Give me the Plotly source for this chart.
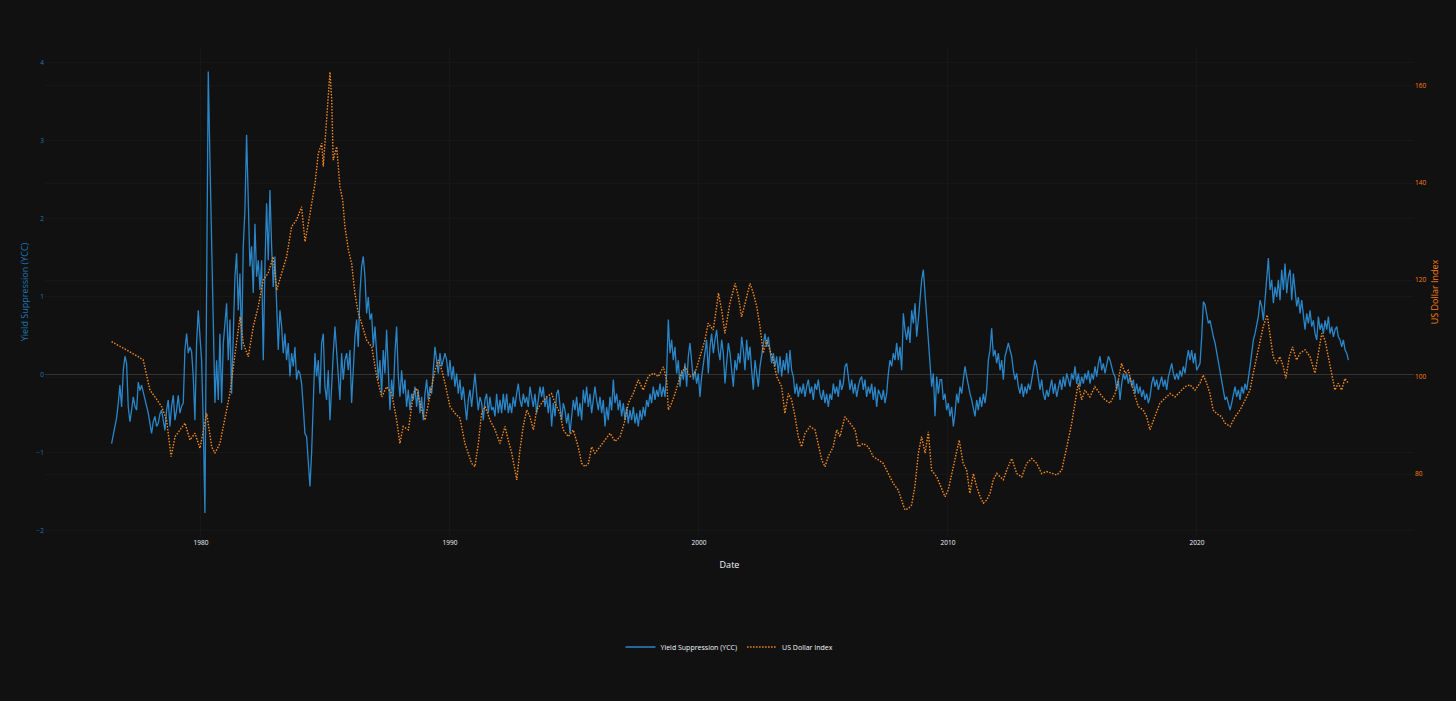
import pandas as pd
import plotly.graph_objects as go

ycc_start = 1976.41
ycc_end = 2026.08
ycc_values = [
    -0.88, -0.77, -0.66, -0.55, -0.36, -0.13, -0.41, 0.05, 0.24, 0.15,
    -0.41, -0.60, -0.45, -0.28, -0.40, -0.45, -0.09, -0.20, -0.13, -0.22,
    -0.28, -0.40, -0.49, -0.62, -0.75, -0.60, -0.53, -0.66, -0.62, -0.50,
    -0.45, -0.58, -0.71, -0.45, -0.32, -0.66, -0.40, -0.26, -0.58, -0.45,
    -0.26, -0.49, -0.40, -0.36, 0.32, 0.53, 0.28, 0.36, 0.30, -0.02,
    -0.58, 0.41, 0.83, 0.50, 0.19, -0.62, -1.77, 1.09, 3.89, 2.76,
    1.56, 0.53, -0.36, 0.19, -0.32, 0.53, -0.36, 0.40, 0.62, 0.92,
    0.19, 0.71, -0.24, 0.71, 1.26, 1.56, 0.83, 1.30, 0.32, 1.65,
    2.12, 3.08, 2.33, 1.39, 1.65, 1.05, 1.94, 1.26, 1.47, 1.09,
    1.47, 0.19, 1.39, 2.20, 1.47, 2.37, 1.65, 1.13, 1.52, 0.96,
    0.32, 0.83, 0.62, 0.28, 0.53, 0.19, 0.41, -0.02, 0.28, 0.11,
    0.36, -0.06, 0.06,
    # 1984 -
    0.02, -0.11, -0.41, -0.75, -0.79, -1.09, -1.43, -1.00, -0.45, 0.28,
    -0.02, 0.19, -0.24, 0.41, 0.53, -0.15, -0.32, 0.06, -0.58, -0.06,
    0.28, 0.62, 0.28, -0.06, -0.32, 0.28, -0.06, 0.19, 0.28, 0.06,
    0.32, -0.36, 0.06, 0.49, 0.71, 0.36, 1.05, 1.39, 1.52, 1.26,
    0.79, 1.00, 0.71, 0.79, 0.36, 0.62, 0.28, -0.06, 0.19, -0.24,
    0.32, 0.02, 0.58, 0.11, -0.45, -0.06, -0.28, 0.28,
    0.62, -0.02, -0.28, 0.06, -0.24, -0.06, -0.41, -0.19, -0.45, -0.24,
    -0.32, -0.15, -0.41, -0.19, -0.49, -0.28, -0.58, -0.24, -0.06, -0.32,
    -0.15, -0.24, 0.11, 0.36, 0.19, 0.02, 0.28, 0.11, 0.19, 0.28,
    0.19, -0.02, 0.19, -0.06, 0.11, -0.15, 0.02, -0.24, -0.06, -0.32,
    -0.15, -0.41, -0.58, -0.32, -0.19, -0.41, -0.15, 0.02, -0.24, -0.45,
    -0.28, -0.36, -0.58, -0.32, -0.24, -0.49, -0.28, -0.45, -0.41, -0.53,
    -0.24, -0.49, -0.32, -0.49, -0.24, -0.45, -0.24, -0.49,
    # 1992 -
    -0.36, -0.49, -0.28, -0.41, -0.24, -0.11, -0.32, -0.41, -0.24, -0.36,
    -0.28, -0.41, -0.15, -0.28, -0.41, -0.24, -0.49, -0.32, -0.15, -0.28,
    -0.15, -0.41, -0.28, -0.49, -0.28, -0.66, -0.36, -0.53, -0.24, -0.19,
    -0.41, -0.58, -0.36, -0.45, -0.62, -0.49, -0.75, -0.53, -0.32, -0.45,
    -0.28, -0.53, -0.36, -0.58, -0.19, -0.36, -0.15, -0.41, -0.24, -0.49,
    -0.28, -0.15, -0.32, -0.45, -0.28, -0.49, -0.32, -0.66, -0.41, -0.58,
    -0.28, -0.45, -0.06, -0.36, -0.24, -0.45, -0.32, -0.53, -0.36, -0.58,
    -0.41, -0.62, -0.45, -0.58, -0.41, -0.62, -0.49, -0.66, -0.45, -0.58,
    -0.41, -0.53, -0.32, -0.41, -0.24, -0.36, -0.15, -0.32, -0.19, -0.28,
    -0.11, -0.28, -0.15, -0.28, 0.02, 0.71, 0.28, 0.45, 0.19, 0.36,
    0.02, 0.19, -0.15, 0.06, -0.06, 0.15, -0.15, 0.24, 0.41, 0.11,
    -0.06, 0.06, -0.11, 0.02, -0.28, -0.02, 0.15, 0.28, 0.45, 0.02,
    0.36, 0.53, 0.28, 0.45, 0.58, 0.32, 0.19, 0.45, 0.28, -0.11,
    0.19, 0.41, 0.28,
    # 2001 -
    0.02, -0.15, 0.19, 0.06, 0.28, 0.15, 0.49, 0.32, 0.06, 0.45,
    0.19, 0.36, 0.06, -0.19, 0.19, -0.02, -0.15, 0.11, 0.24, 0.41,
    0.53, 0.36, 0.49, 0.32, 0.15, 0.28, 0.11, 0.24, 0.02, 0.24,
    -0.02, 0.19, 0.06, 0.28, 0.02, 0.32, 0.06, -0.02, -0.24, -0.11,
    -0.28, -0.15, -0.24, -0.11, -0.28, -0.15, -0.06, -0.24, -0.15, -0.32,
    -0.11, -0.19, -0.06, -0.24, -0.32, -0.19, -0.36, -0.24, -0.41, -0.24,
    -0.32, -0.11, -0.24, -0.15, -0.28, -0.06, -0.19, -0.11, 0.11, 0.15,
    -0.06, -0.19, -0.06, -0.24, -0.11, -0.28, -0.15, -0.06, -0.02, -0.19,
    -0.06, -0.28, -0.15, -0.24, -0.11, -0.32, -0.15, -0.41, -0.19, -0.24,
    -0.32, -0.19, -0.36, -0.24, 0.02, 0.19, 0.11, 0.28, 0.19, 0.41,
    0.19, 0.36, 0.06, 0.79, 0.58, 0.45, 0.62, 0.41, 0.83, 0.66,
    0.92, 0.49, 0.71, 1.00, 1.22,
    1.35, 1.05, 0.83, 0.49, 0.28, -0.15, 0.02, -0.53, -0.02, -0.24, -0.06,
    # 2010 -
    -0.06, -0.32, -0.24, -0.45, -0.36, -0.53, -0.41, -0.66, -0.49, -0.24,
    -0.36, -0.15, -0.24, -0.06, 0.11, -0.02, -0.15, -0.24, -0.32, -0.45,
    -0.53, -0.32, -0.45, -0.28, -0.41, -0.24, -0.36, -0.19, 0.19, 0.32,
    0.60, 0.24, 0.32, 0.15, 0.28, 0.06, 0.19, -0.06, 0.24, 0.32,
    0.41, 0.32, 0.24, 0.06, -0.06, 0.02, -0.15, -0.24, -0.11, -0.28,
    -0.15, -0.24, -0.11, -0.19, -0.06, 0.06, 0.19, 0.11, -0.06, -0.19,
    -0.06, -0.24, -0.32, -0.19, -0.28, -0.15, -0.06, -0.24, -0.11, -0.28,
    -0.15, -0.06, -0.19, -0.02, -0.15, 0.02, -0.06, -0.15, 0.02, -0.06,
    0.11, -0.11, 0.02, -0.15, -0.02, -0.11, 0.02, -0.06, 0.06, -0.11,
    0.02, -0.06, 0.11, -0.02, 0.15, 0.24, 0.06, 0.15, 0.02, 0.15,
    0.24, 0.19, 0.11, 0.02, -0.02, -0.19, -0.06, -0.32, -0.11, 0.02,
    -0.06, 0.02, -0.11, -0.02, -0.15, -0.06, -0.24, -0.11, -0.24, -0.15,
    -0.28, -0.19, -0.32, -0.24, -0.36,
    # 2018 -
    -0.28, -0.11, -0.02, -0.15, -0.06, -0.19, -0.11, -0.02, -0.15, -0.06,
    -0.19, -0.02, 0.06, 0.15, 0.02, -0.06, 0.02, -0.06, 0.06, -0.02,
    0.11, 0.02, 0.19, 0.32, 0.19, 0.32, 0.15, 0.28, 0.06, 0.11,
    0.15, 0.49, 0.94, 0.90, 0.79, 0.66, 0.70, 0.58, 0.49, 0.41,
    0.28, 0.15, 0.02, -0.11, -0.24, -0.32, -0.28, -0.36, -0.45, -0.36,
    -0.24, -0.15, -0.28, -0.19, -0.32, -0.15, -0.24, -0.11, -0.19, -0.06,
    0.11, 0.28, 0.45, 0.53, 0.66, 0.75, 0.96, 0.88, 0.70, 1.00,
    1.18, 1.50, 1.09, 1.22, 0.92, 1.13, 1.00, 1.22, 0.96, 1.35,
    1.09, 1.43, 1.05, 1.26, 1.35, 0.96, 1.30, 1.05, 0.88, 1.00,
    0.79, 0.96, 0.75, 0.58, 0.79, 0.66, 0.83, 0.62, 0.70, 0.53,
    0.45, 0.75, 0.58, 0.66, 0.53, 0.70, 0.58, 0.75, 0.53, 0.62,
    0.49, 0.58, 0.62, 0.49, 0.45, 0.36, 0.45, 0.32, 0.28, 0.19,
]

# US Dollar Index - (decimal year, value)
dxy_years = [
    1976.41, 1977.02, 1977.48, 1977.68, 1977.95, 1978.15, 1978.42, 1978.62, 1978.80, 1978.96,
    1979.16, 1979.36, 1979.56, 1979.76, 1979.96, 1980.23, 1980.43, 1980.56, 1980.76, 1980.96,
    1981.16, 1981.37, 1981.57, 1981.70, 1981.90, 1982.10, 1982.30, 1982.50, 1982.70, 1982.90,
    1983.04, 1983.24, 1983.44, 1983.64, 1983.84, 1984.04, 1984.18, 1984.38, 1984.58, 1984.71,
    1984.85, 1984.91, 1985.05, 1985.18, 1985.25, 1985.31, 1985.45, 1985.58, 1985.69, 1985.78,
    1985.92, 1986.05, 1986.18, 1986.32, 1986.45, 1986.65, 1986.86, 1987.06, 1987.26, 1987.46,
    1987.66, 1987.86, 1987.99, 1988.12, 1988.33, 1988.53, 1988.66, 1988.86, 1989.00, 1989.20,
    1989.40, 1989.53, 1989.67, 1989.80, 1990.00, 1990.20, 1990.40, 1990.60, 1990.74, 1990.87,
    1991.00, 1991.14, 1991.27, 1991.41, 1991.61, 1991.81, 1992.01, 1992.21, 1992.34, 1992.48,
    1992.61, 1992.68, 1992.81, 1992.94, 1993.08, 1993.21, 1993.35, 1993.48, 1993.68, 1993.88,
    1994.08, 1994.22, 1994.42, 1994.55, 1994.75, 1994.95, 1995.15, 1995.29, 1995.42, 1995.56,
    1995.69, 1995.82, 1996.02, 1996.22, 1996.43, 1996.63, 1996.83, 1997.03, 1997.16, 1997.36,
    1997.56, 1997.76, 1997.96, 1998.17, 1998.37, 1998.57, 1998.70, 1998.77, 1998.90, 1999.04,
    1999.24, 1999.44, 1999.64, 1999.84, 2000.04, 2000.24, 2000.37, 2000.57, 2000.71, 2000.78,
    2000.91, 2001.04, 2001.24, 2001.45, 2001.58, 2001.71, 2001.85, 2002.05, 2002.18, 2002.32,
    2002.45, 2002.58, 2002.72, 2002.85, 2002.98, 2003.12, 2003.32, 2003.45, 2003.59, 2003.72,
    2003.86, 2003.99, 2004.12, 2004.26, 2004.46, 2004.66, 2004.79, 2004.93, 2005.06, 2005.19,
    2005.39, 2005.53, 2005.66, 2005.86, 2006.06, 2006.27, 2006.40, 2006.60, 2006.80, 2007.00,
    2007.20, 2007.40, 2007.60, 2007.80, 2008.00, 2008.14, 2008.27, 2008.41, 2008.54, 2008.67,
    2008.81, 2008.94, 2009.08, 2009.21, 2009.34, 2009.55, 2009.75, 2009.88, 2010.01, 2010.15,
    2010.35, 2010.45, 2010.61, 2010.75, 2010.88, 2011.02, 2011.15, 2011.29, 2011.42, 2011.55,
    2011.69, 2011.82, 2011.96, 2012.09, 2012.22, 2012.36, 2012.56, 2012.76, 2012.96, 2013.16,
    2013.36, 2013.56, 2013.76, 2013.96, 2014.16, 2014.37, 2014.57, 2014.70, 2014.83, 2014.97,
    2015.10, 2015.23, 2015.37, 2015.50, 2015.70, 2015.90, 2016.10, 2016.30, 2016.51, 2016.71,
    2016.84, 2016.97, 2017.11, 2017.24, 2017.44, 2017.64, 2017.84, 2017.98, 2018.11, 2018.31,
    2018.51, 2018.71, 2018.92, 2019.12, 2019.32, 2019.52, 2019.72, 2019.92, 2020.12, 2020.25,
    2020.39, 2020.52, 2020.65, 2020.78, 2020.99, 2021.12, 2021.33, 2021.53, 2021.73, 2021.93,
    2022.13, 2022.26, 2022.40, 2022.53, 2022.66, 2022.82, 2022.93, 2023.06, 2023.20, 2023.33,
    2023.47, 2023.57, 2023.71, 2023.84, 2024.00, 2024.14, 2024.34, 2024.54, 2024.74, 2024.87,
    2025.01, 2025.14, 2025.27, 2025.41, 2025.54, 2025.67, 2025.81, 2025.94, 2026.08,
]
dxy_values = [
    107.3, 105.6, 104.2, 103.5, 97.3, 95.9, 93.9, 91.1, 83.6, 87.7,
    89.1, 90.5, 87.0, 88.4, 85.3, 92.5, 85.6, 84.3, 86.3, 91.1,
    96.6, 104.9, 112.4, 106.9, 104.2, 110.4, 114.5, 120.0, 121.4, 124.8,
    117.9, 121.4, 124.8, 131.0, 132.4, 135.1, 127.9, 133.7, 139.9, 146.1,
    148.2, 143.4, 153.0, 162.9, 157.1, 144.7, 147.5, 139.2, 136.5, 131.0,
    126.2, 123.4, 117.3, 113.1, 111.1, 107.6, 106.2, 100.0, 95.9, 98.0,
    96.6, 91.1, 86.3, 89.8, 89.1, 96.6, 97.7, 93.2, 91.1, 96.6,
    101.4, 103.5, 101.4, 98.7, 93.9, 92.5, 91.5, 86.3, 84.3, 82.2,
    81.5, 86.3, 92.5, 93.9, 91.1, 89.1, 86.3, 89.8, 87.0, 84.3,
    80.8, 78.8, 85.0, 89.8, 93.2, 91.8, 89.1, 93.2, 94.6, 95.9,
    96.6, 94.6, 92.5, 89.1, 87.7, 89.1, 85.6, 82.2, 81.5, 82.2,
    85.6, 84.3, 85.6, 87.0, 88.4, 86.7, 87.7, 91.1, 94.6, 96.6,
    99.4, 97.3, 100.1, 100.8, 100.1, 102.1, 99.4, 93.2, 94.6, 96.6,
    100.1, 102.1, 100.1, 100.8, 104.2, 107.6, 111.1, 109.7, 114.5, 117.3,
    113.8, 109.0, 115.2, 119.3, 116.6, 112.4, 115.2, 119.3, 117.3, 114.5,
    110.4, 104.9, 107.6, 105.6, 103.5, 100.1, 98.0, 92.5, 96.6, 95.3,
    91.8, 87.7, 85.6, 88.4, 89.8, 89.1, 86.3, 82.9, 81.5, 83.6,
    85.6, 89.1, 87.7, 91.8, 90.5, 89.1, 85.6, 86.3, 85.6, 83.6,
    82.9, 82.2, 80.1, 78.1, 76.7, 74.6, 72.6, 72.9, 73.6, 77.4,
    84.3, 87.7, 84.3, 88.7, 80.8, 79.4, 76.7, 75.3, 76.7, 80.1,
    84.3, 87.0, 82.2, 80.8, 76.0, 80.1, 77.4, 75.3, 74.0, 74.6,
    76.0, 78.8, 80.1, 79.4, 78.8, 80.8, 83.2, 80.1, 79.4, 82.2,
    83.2, 82.2, 80.1, 80.5, 80.1, 79.8, 80.8, 84.3, 87.0, 90.5,
    94.6, 98.7, 95.3, 97.3, 95.9, 98.0, 96.6, 95.3, 94.6, 96.6,
    99.4, 102.8, 100.8, 101.4, 97.3, 93.9, 93.2, 91.8, 89.1, 91.8,
    94.6, 95.6, 96.6, 95.9, 97.0, 98.0, 98.4, 97.3, 98.7, 100.4,
    98.7, 96.6, 93.2, 92.5, 91.8, 90.5, 89.8, 91.8, 93.2, 95.3,
    97.3, 100.8, 104.2, 107.6, 110.4, 112.8, 108.3, 104.2, 102.8, 104.2,
    102.1, 99.7, 104.2, 106.2, 103.5, 104.9, 105.6, 104.2, 100.8, 104.9,
    109.0, 107.6, 104.2, 100.1, 97.3, 98.7, 97.3, 99.7, 98.7,
]

BLUE = "#1f77b4"
BLUE_LINE = "#2a86c8"
ORANGE = "#ff7f0e"
ORANGE_LINE = "#f58a1f"
BG = "#111111"
GRID = "#171717"
TEXT = "#f2f5fa"


def year_to_date(y):
    yr = int(y)
    start = pd.Timestamp(yr, 1, 1)
    return start + (pd.Timestamp(yr + 1, 1, 1) - start) * (y - yr)


ycc_dates = pd.date_range(year_to_date(ycc_start), year_to_date(ycc_end),
                          periods=len(ycc_values))
dxy_dates = [year_to_date(y) for y in dxy_years]

fig = go.Figure()
fig.add_trace(go.Scatter(
    x=ycc_dates, y=ycc_values,
    mode="lines",
    name="Yield Suppression (YCC)",
    line=dict(color=BLUE_LINE, width=1.3),
))
fig.add_trace(go.Scatter(
    x=dxy_dates, y=dxy_values,
    mode="lines",
    name="US Dollar Index",
    line=dict(color=ORANGE_LINE, width=1.4, dash="1.5px,1.5px"),
    yaxis="y2",
))

fig.update_layout(
    template="plotly_dark",
    width=1456, height=701,
    paper_bgcolor=BG, plot_bgcolor=BG,
    font=dict(family="Open Sans, Verdana, sans-serif", size=7, color=TEXT),
    margin=dict(l=45, r=42, t=47, b=164),
    showlegend=True,
    legend=dict(orientation="h", x=0.5, xanchor="center", y=-0.2245, yanchor="middle",
                font=dict(size=7, color=TEXT), bgcolor="rgba(0,0,0,0)"),
    xaxis=dict(
        title=dict(text="Date", font=dict(size=9, color=TEXT), standoff=16),
        range=[year_to_date(1973.735), year_to_date(2028.715)],
        type="date", dtick="M120", tick0="1980-01-01",
        showgrid=True, gridcolor=GRID, zeroline=False,
        tickfont=dict(size=6.5, color=TEXT),
        automargin=False,
    ),
    yaxis=dict(
        title=dict(text="Yield Suppression (YCC)", font=dict(size=9, color=BLUE), standoff=6),
        range=[-2.077, 4.205], dtick=1,
        tickfont=dict(size=6.5, color=BLUE),
        showgrid=True, gridcolor=GRID,
        zeroline=True, zerolinecolor="#333333", zerolinewidth=1,
        automargin=False,
    ),
    yaxis2=dict(
        title=dict(text="US Dollar Index", font=dict(size=9, color=ORANGE), standoff=6),
        range=[67.01, 168.04], dtick=20,
        tickfont=dict(size=6.5, color=ORANGE),
        overlaying="y", side="right",
        showgrid=True, gridcolor=GRID, zeroline=False,
        automargin=False,
    ),
)

fig.write_html(
    "out.html",
    config={"displayModeBar": False},
    post_script="document.body.style.margin='0';document.body.style.overflow='hidden';",
)
